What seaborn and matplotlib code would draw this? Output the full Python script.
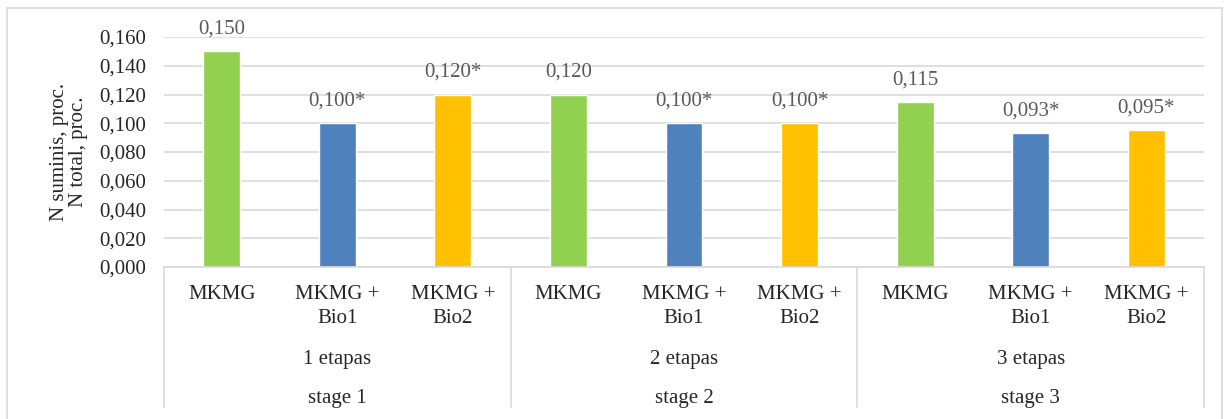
import matplotlib
matplotlib.use("Agg")
import matplotlib.pyplot as plt
import matplotlib.transforms as mtransforms
from matplotlib.lines import Line2D
import seaborn as sns
import pandas as pd

# Duomenys
stages = ["stage 1", "stage 2", "stage 3"]
etapai = ["1 etapas", "2 etapas", "3 etapas"]
treatments = ["MKMG", "MKMG +\nBio1", "MKMG +\nBio2"]
values = [0.150, 0.100, 0.120,
          0.120, 0.100, 0.100,
          0.115, 0.093, 0.095]
value_labels = ["0,150", "0,100*", "0,120*",
                "0,120", "0,100*", "0,100*",
                "0,115", "0,093*", "0,095*"]
colors = ["#92D050", "#4F81BD", "#FFC000"]

rows = []
for i, st in enumerate(stages):
    for j, tr in enumerate(treatments):
        rows.append({"key": f"{i}-{j}", "treatment": tr, "value": values[i * 3 + j]})
df = pd.DataFrame(rows)

sns.set_style("white")
plt.rcParams["font.family"] = "serif"
plt.rcParams["font.serif"] = ["Liberation Serif", "DejaVu Serif"]
FS = 15

fig = plt.figure(figsize=(12.29, 4.19), dpi=100)
ax = fig.add_axes([164 / 1229, 1 - 267 / 419, 1040 / 1229, 230 / 419])

sns.barplot(data=df, x="key", y="value", hue="treatment", hue_order=treatments,
            palette=colors, saturation=1, dodge=False, width=0.32, legend=False,
            ax=ax, order=list(df["key"]))

ax.set_xlim(-0.5, 8.5)
ax.set_ylim(0, 0.16)
yt = [i * 0.02 for i in range(9)]
ax.set_yticks(yt)
ax.set_yticklabels([f"{v:.3f}".replace(".", ",") for v in yt], fontsize=FS)
ax.tick_params(axis="y", length=0, pad=13)
ax.set_xticks([])
ax.set_xlabel("")
ax.grid(axis="y", color="#D9D9D9", lw=1.2)
ax.set_axisbelow(True)
for s in ["left", "right", "top"]:
    ax.spines[s].set_visible(False)
ax.spines["bottom"].set_color("#D9D9D9")
ax.spines["bottom"].set_linewidth(1.2)

ax.set_ylabel("N suminis, proc.\nN total, proc.", fontsize=FS, linespacing=1.0)
ax.yaxis.set_label_coords(-0.073, 0.5)

# reikšmės virš stulpelių
for k, cont in enumerate(ax.containers):
    labs = [value_labels[i * 3 + k] for i in range(3)]
    ax.bar_label(cont, labels=labs, padding=9, fontsize=FS, color="#595959")

# kategorijų ašis
trans = mtransforms.blended_transform_factory(ax.transData, ax.transAxes)
for i in range(3):
    for j, tr in enumerate(treatments):
        ax.text(i * 3 + j, -0.077, tr, transform=trans, ha="center", va="top",
                fontsize=FS, linespacing=1.38)
    ax.text(i * 3 + 1, -0.404, etapai[i], transform=trans, ha="center", va="center", fontsize=FS)
    ax.text(i * 3 + 1, -0.57, stages[i], transform=trans, ha="center", va="center", fontsize=FS)
for xs in [-0.5, 2.5, 5.5, 8.5]:
    ax.add_line(Line2D([xs, xs], [0, -0.609], transform=trans, color="#D9D9D9",
                       lw=1.2, clip_on=False))

# išorinis rėmelis
fx0, fx1, fy1 = 7 / 1229, 1222 / 1229, 1 - 8 / 419
for xs, ys in [([fx0, fx0], [0, fy1]), ([fx0, fx1], [fy1, fy1]), ([fx1, fx1], [fy1, 0])]:
    fig.add_artist(Line2D(xs, ys, transform=fig.transFigure, color="#D9D9D9", lw=1.2))

fig.savefig("out.png", dpi=100)
